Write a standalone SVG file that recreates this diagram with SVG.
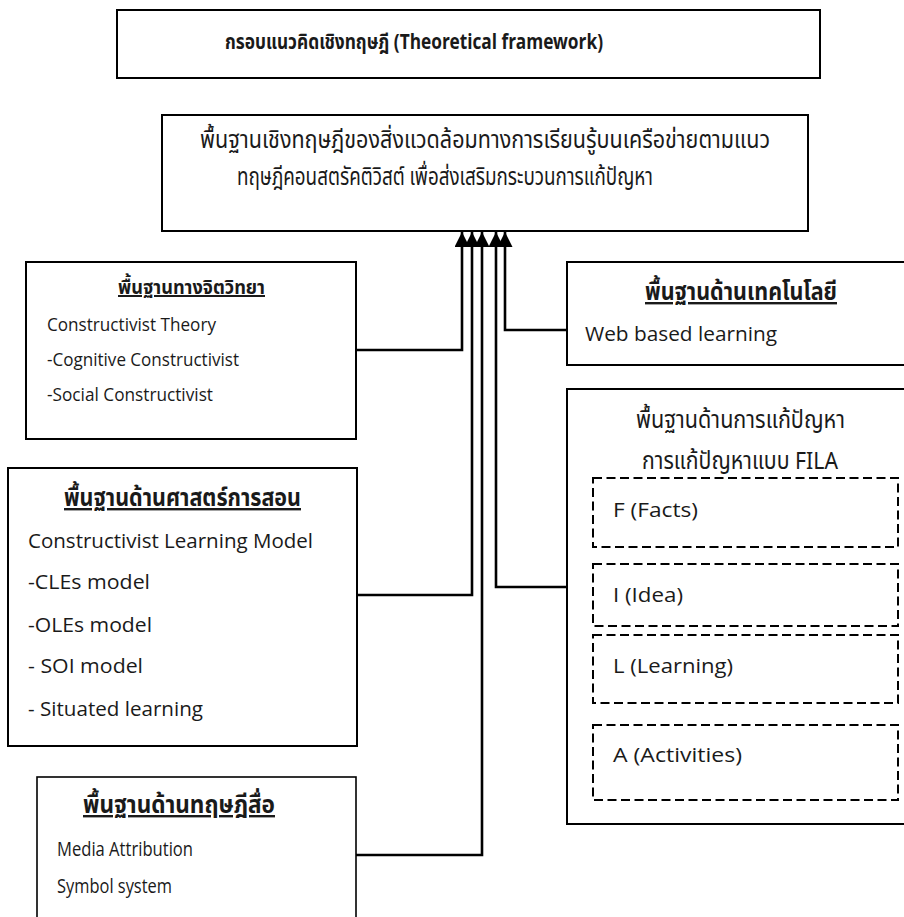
<svg xmlns="http://www.w3.org/2000/svg" width="904" height="917" viewBox="0 0 904 917">
<style>
text{font-family:"Open Sans","Noto Sans Thai","Noto Sans",sans-serif;fill:#1a1a1a}
.th{font-family:"Noto Sans Thai","Noto Sans Thai UI","Noto Sans","Open Sans",sans-serif}
.b{font-weight:bold}
.u{text-decoration:underline}
.s19{font-size:19px}
.s20{font-size:20px}
.s22{font-size:22px}
.s24{font-size:24px}
.box{fill:#fff;stroke:#000;stroke-width:2}
.dash{fill:none;stroke:#000;stroke-width:2;stroke-dasharray:9 4.5}
.con{fill:none;stroke:#000;stroke-width:2.6}
</style>
<defs>
<marker id="arr" markerUnits="userSpaceOnUse" markerWidth="16" markerHeight="15" refX="15" refY="7.5" orient="auto">
<path d="M0,0 L15,7.5 L0,15 Z" fill="#000"/>
</marker>
</defs>
<rect width="904" height="917" fill="#fff"/>
<g id="title">
<rect class="box" x="117" y="10" width="703" height="68"/>
<text class="th b s22" x="225" y="49" textLength="378" lengthAdjust="spacingAndGlyphs">กรอบแนวคิดเชิงทฤษฎี (Theoretical framework)</text>
</g>
<g id="main">
<rect class="box" x="162" y="115" width="646" height="116"/>
<text class="th s24" x="200" y="148" textLength="570" lengthAdjust="spacingAndGlyphs">พื้นฐานเชิงทฤษฎีของสิ่งแวดล้อมทางการเรียนรู้บนเครือข่ายตามแนว</text>
<text class="th s24" x="237" y="185" textLength="416" lengthAdjust="spacingAndGlyphs">ทฤษฎีคอนสตรัคติวิสต์ เพื่อส่งเสริมกระบวนการแก้ปัญหา</text>
</g>
<g id="psych">
<rect class="box" x="26" y="262" width="330" height="177"/>
<text class="th b u s20" x="118" y="294" textLength="147" lengthAdjust="spacingAndGlyphs">พื้นฐานทางจิตวิทยา</text>
<text class="s19" x="47" y="331" textLength="169" lengthAdjust="spacingAndGlyphs">Constructivist Theory</text>
<text class="s19" x="47" y="366" textLength="192" lengthAdjust="spacingAndGlyphs">-Cognitive Constructivist</text>
<text class="s19" x="47" y="401" textLength="166" lengthAdjust="spacingAndGlyphs">-Social Constructivist</text>
</g>
<g id="tech">
<rect class="box" x="567" y="262" width="345" height="103"/>
<text class="th b u s24" x="645" y="300" textLength="192" lengthAdjust="spacingAndGlyphs">พื้นฐานด้านเทคโนโลยี</text>
<text class="s20" x="585" y="341" textLength="192" lengthAdjust="spacingAndGlyphs">Web based learning</text>
</g>
<g id="fila">
<rect class="box" x="567" y="389" width="345" height="435"/>
<text class="th s24" x="636" y="428" textLength="209" lengthAdjust="spacingAndGlyphs">พื้นฐานด้านการแก้ปัญหา</text>
<text class="th s24" x="642" y="469" textLength="196" lengthAdjust="spacingAndGlyphs">การแก้ปัญหาแบบ FILA</text>
<rect class="dash" x="593" y="478" width="305" height="69"/>
<text class="s20" x="613" y="517" textLength="85" lengthAdjust="spacingAndGlyphs">F (Facts)</text>
<rect class="dash" x="593" y="564" width="305" height="62"/>
<text class="s20" x="613" y="602" textLength="70" lengthAdjust="spacingAndGlyphs">I (Idea)</text>
<rect class="dash" x="593" y="635" width="305" height="68"/>
<text class="s20" x="613" y="673" textLength="120" lengthAdjust="spacingAndGlyphs">L (Learning)</text>
<rect class="dash" x="593" y="725" width="305" height="75"/>
<text class="s20" x="613" y="762" textLength="129" lengthAdjust="spacingAndGlyphs">A (Activities)</text>
</g>
<g id="teaching">
<rect class="box" x="8" y="468" width="349" height="278"/>
<text class="th b u s24" x="64" y="506" textLength="237" lengthAdjust="spacingAndGlyphs">พื้นฐานด้านศาสตร์การสอน</text>
<text class="s20" x="28" y="548" textLength="285" lengthAdjust="spacingAndGlyphs">Constructivist Learning Model</text>
<text class="s20" x="28" y="589" textLength="122" lengthAdjust="spacingAndGlyphs">-CLEs model</text>
<text class="s20" x="28" y="632" textLength="124" lengthAdjust="spacingAndGlyphs">-OLEs model</text>
<text class="s20" x="28" y="673" textLength="115" lengthAdjust="spacingAndGlyphs">- SOI model</text>
<text class="s20" x="28" y="716" textLength="175" lengthAdjust="spacingAndGlyphs">- Situated learning</text>
</g>
<g id="media">
<rect class="box" x="37" y="777" width="319" height="160" style="stroke-width:1.6"/>
<text class="th b u s24" x="83" y="813" textLength="192" lengthAdjust="spacingAndGlyphs">พื้นฐานด้านทฤษฎีสื่อ</text>
<text class="s20" x="57" y="856" textLength="136" lengthAdjust="spacingAndGlyphs">Media Attribution</text>
<text class="s20" x="57" y="893" textLength="115" lengthAdjust="spacingAndGlyphs">Symbol system</text>
</g>
<g id="connectors">
<path class="con" d="M356,350 H462 V232" marker-end="url(#arr)"/>
<path class="con" d="M357,595 H472 V232" marker-end="url(#arr)"/>
<path class="con" d="M356,855 H482 V232" marker-end="url(#arr)"/>
<path class="con" d="M567,587 H496 V232" marker-end="url(#arr)"/>
<path class="con" d="M567,330 H505 V232" marker-end="url(#arr)"/>
</g>
</svg>
